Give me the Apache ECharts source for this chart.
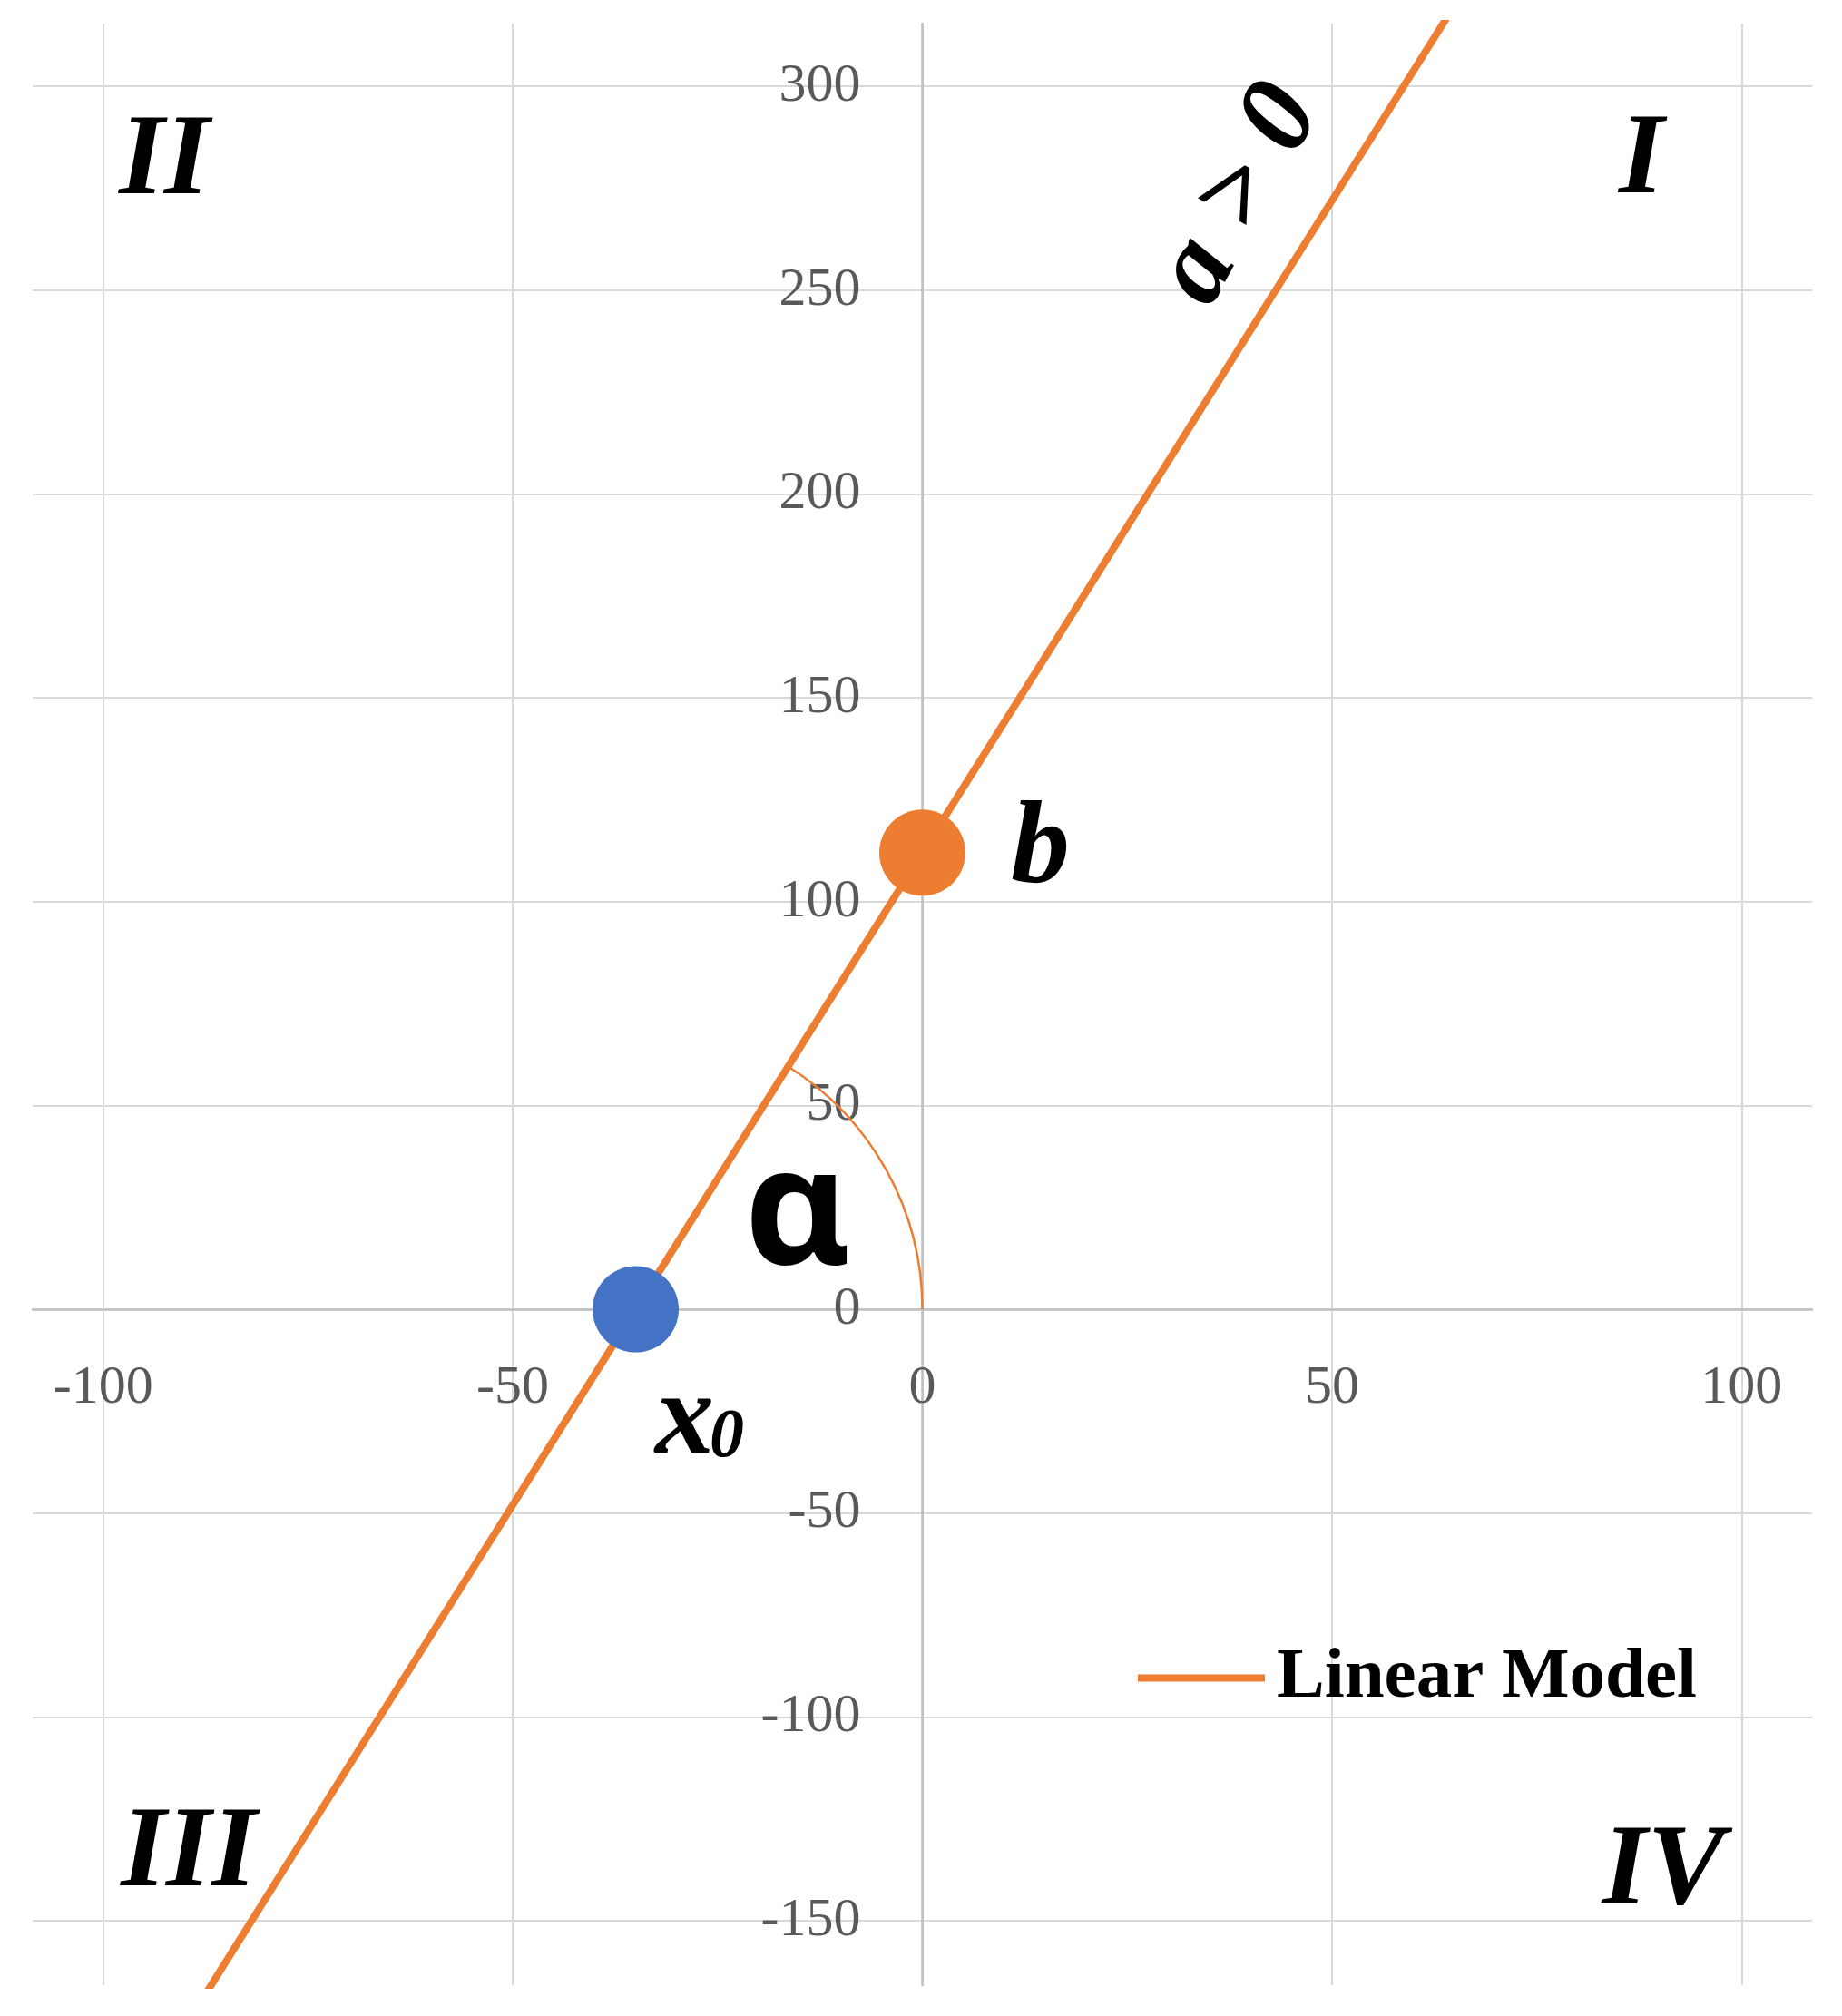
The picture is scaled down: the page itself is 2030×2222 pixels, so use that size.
<!DOCTYPE html>
<html>
<head>
<meta charset="utf-8">
<script src="https://cdn.jsdelivr.net/npm/echarts@6/dist/echarts.min.js"></script>
<style>html,body{margin:0;background:#fff}#chart{width:2030px;height:2222px}</style>
</head>
<body>
<div id="chart"></div>
<script>
// 直线模型 y = a*x + b 的读数
const lineX = [-90, 65];
const lineY = [-176, 320];
const rootPoint = [-35, 0];      // x0
const interceptPoint = [0, 112]; // b
const xRange = [-108.6, 108.6];
const yRange = [-165.8, 315.4];
const tickStep = 50;
const quadrants = ['I', 'II', 'III', 'IV'];

const serif = 'Liberation Serif';
const orange = '#ED7D31';
const blue = '#4472C4';

const W = 2030, H = 2222;
const grid = { left: 36, right: 33, top: 26, bottom: 34 };

// v6 里 onZero 不会带着标签走，所以用 offset 把两根轴挪到 0 的位置
const plotW = W - grid.left - grid.right;
const plotH = H - grid.top - grid.bottom;
const yAxisOffset = -(0 - xRange[0]) / (xRange[1] - xRange[0]) * plotW;
const xAxisOffset = -(0 - yRange[0]) / (yRange[1] - yRange[0]) * plotH;

const chart = echarts.init(document.getElementById('chart'));

// 图上的文字
function tag(text, x, y, size, extra, styleExtra) {
  return Object.assign({
    type: 'text', x: x, y: y, z: 100,
    style: Object.assign({
      text: text,
      fontFamily: serif, fontStyle: 'italic', fontWeight: 'bold', fontSize: size,
      fill: '#000', align: 'center', verticalAlign: 'middle'
    }, styleExtra)
  }, extra);
}

function axisCommon(margin, offset) {
  return {
    type: 'value',
    minInterval: tickStep,
    maxInterval: tickStep,
    offset: offset,
    axisLine: { onZero: false, lineStyle: { color: '#bfbfbf', width: 2.5 } },
    axisTick: { show: false },
    axisLabel: {
      showMinLabel: false, showMaxLabel: false, margin: margin,
      color: '#595959', fontFamily: serif, fontSize: 60
    },
    splitLine: { showMinLine: false, showMaxLine: false, lineStyle: { color: '#d9d9d9', width: 2 } }
  };
}

const option = {
  backgroundColor: '#fff',
  animation: false,
  grid: Object.assign({ outerBoundsMode: 'none' }, grid),
  legend: {
    data: [{ name: 'Linear Model', icon: 'rect' }],
    left: 1254, top: 1810, padding: 0,
    itemWidth: 140, itemHeight: 8,
    textStyle: {
      fontFamily: serif, fontWeight: 'bold', fontSize: 79, color: '#000',
      padding: [0, 0, 0, 8]
    }
  },
  xAxis: Object.assign(axisCommon(57, xAxisOffset), { position: 'bottom', min: xRange[0], max: xRange[1] }),
  yAxis: Object.assign(axisCommon(68, yAxisOffset), { position: 'left', min: yRange[0], max: yRange[1] }),
  series: [
    {
      name: 'Linear Model',
      type: 'line',
      data: lineX.map((x, i) => [x, lineY[i]]),
      symbol: 'none',
      lineStyle: { color: orange, width: 8 },
      itemStyle: { color: orange },
      z: 3
    },
    {
      // 角 α 的弧线，圆心在 x0
      type: 'custom',
      data: [rootPoint],
      z: 3,
      renderItem(params, api) {
        const c = api.coord([api.value(0), api.value(1)]);
        const o = api.coord([0, 0]);
        const p = api.coord(interceptPoint);
        const ang = Math.atan2(p[1] - c[1], p[0] - c[0]);
        return {
          type: 'arc',
          shape: { cx: c[0], cy: c[1], r: o[0] - c[0], startAngle: ang, endAngle: 0, clockwise: true },
          style: { stroke: orange, lineWidth: 2.5, fill: 'none' }
        };
      }
    },
    {
      type: 'scatter',
      symbolSize: 95,
      z: 4,
      itemStyle: { opacity: 1 },
      data: [
        { value: rootPoint, itemStyle: { color: blue, opacity: 1 } },
        { value: interceptPoint, itemStyle: { color: orange, opacity: 1 } }
      ]
    }
  ],
  graphic: [
    tag(quadrants[1], 181, 180, 128),
    tag(quadrants[0], 1809, 179, 128),
    tag(quadrants[2], 208, 2045, 128),
    tag(quadrants[3], 1833, 2065, 128),
    tag('b', 1114, 938, 130, {}, { align: 'left' }),
    tag('x', 722, 1567, 130, {}, { align: 'left' }),
    tag('0', 782, 1585, 76, {}, { align: 'left' }),
    tag('α', 879, 1342, 180, {}, { fontFamily: 'Noto Sans', fontStyle: 'normal' }),
    tag('a > 0', 1367, 215, 122, { rotation: 61 * Math.PI / 180 })
  ]
};

chart.setOption(option);
</script>
</body>
</html>
